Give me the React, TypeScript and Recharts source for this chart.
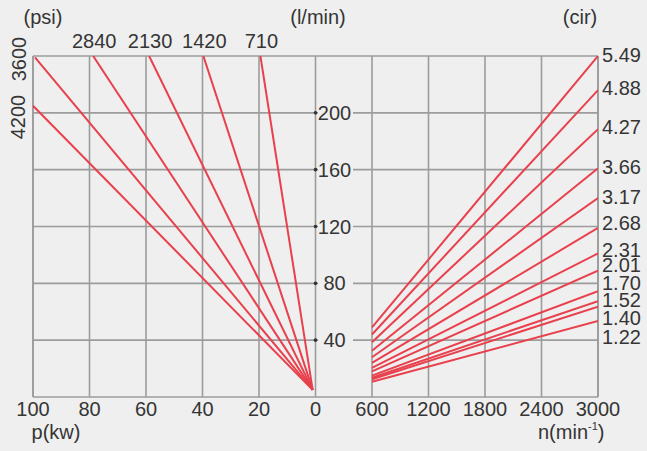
import React from 'react';
import { LineChart, Line, XAxis, YAxis, CartesianGrid, ReferenceDot } from 'recharts';

// ---- axis ticks ----
const kwTicks = [100, 80, 60, 40, 20, 0];
const rpmTicks = [600, 1200, 1800, 2400, 3000];
const flowGridTicks = [0, 40, 80, 120, 160, 200, 240];
const flowLabelTicks = [40, 80, 120, 160, 200];

// ---- left panel: pressure lines (psi), power (kW) vs flow (l/min) ----
const psiLabels = ['710', '1420', '2130', '2840', '3600', '4200'];
const psiTopKw = [19.5, 39.7, 58.9, 78.7, 99.3, 100];
const psiTopFlow = [240, 240, 240, 240, 239, 205];
const psiOriginKw = [1, 1, 1, 1, 1, 1];
const psiOriginFlow = [5, 5, 5, 5, 5, 5];

// ---- right panel: displacement lines (cir), speed (rpm) vs flow (l/min) ----
const cirLabels = ['5.49', '4.88', '4.27', '3.66', '3.17', '2.68', '2.31', '2.01', '1.70', '1.52', '1.40', '1.22'];
const flowAt600 = [49, 44, 38.5, 32.5, 28, 24, 20.5, 18, 15, 13.5, 12.5, 10.7];
const flowAt3000 = [240, 216, 188.5, 161, 140, 119, 101, 89, 74.5, 67.5, 63.5, 53.5];
const cirLabelFlow = [240.5, 217.5, 190, 162, 140.7, 122.4, 103.4, 92.9, 80.2, 68.3, 55.6, 42.2];

const FONT = '"Liberation Sans", Arial, sans-serif';
const TEXT = '#353535';
const GRID = '#9c9c9c';
const RED = '#e8404c';
const BG = '#efefef';

const psiSeries = psiLabels.map((name, i) => ({
  name,
  data: [
    { kw: psiTopKw[i], q: psiTopFlow[i] },
    { kw: psiOriginKw[i], q: psiOriginFlow[i] },
  ],
}));

const cirSeries = cirLabels.map((name, i) => ({
  name,
  data: [
    { rpm: 600, q: flowAt600[i] },
    { rpm: 3000, q: flowAt3000[i] },
  ],
}));

const centerOf = (vb: any) => ({
  cx: vb.x + (vb.width || 0) / 2,
  cy: vb.y + (vb.height || 0) / 2,
});

const flowLabel = (value: number) => (props: any) => {
  const { cx, cy } = centerOf(props.viewBox);
  return (
    <g>
      <rect x={cx + 2.5} y={cy - 9} width={35} height={18} fill={BG} />
      <text x={cx + 19} y={cy + 7} textAnchor="middle" fontFamily={FONT} fontSize={20} fill={TEXT}>
        {value}
      </text>
    </g>
  );
};

const topPsiLabel = (value: string) => (props: any) => {
  const { cx, cy } = centerOf(props.viewBox);
  return (
    <text x={cx + 1} y={cy - 8} textAnchor="middle" fontFamily={FONT} fontSize={20} fill={TEXT}>
      {value}
    </text>
  );
};

const cirLabel = (value: string) => (props: any) => {
  const { cx, cy } = centerOf(props.viewBox);
  return (
    <text x={cx + 4} y={cy + 7} textAnchor="start" fontFamily={FONT} fontSize={20} fill={TEXT}>
      {value}
    </text>
  );
};

const BottomTick = (props: any) => {
  const { x, y, payload } = props;
  return (
    <text x={x} y={y + 14} textAnchor="middle" fontFamily={FONT} fontSize={20} fill={TEXT}>
      {payload.value}
    </text>
  );
};

export default function App() {
  return (
    <div style={{ position: 'fixed', left: 0, top: 0, width: 647, height: 451, background: BG }}>
      <LineChart width={647} height={451} margin={{ top: 56, right: 49, bottom: 52, left: 33 }}>
        <XAxis
          xAxisId="kw"
          dataKey="kw"
          type="number"
          domain={[-100, 100]}
          reversed
          ticks={kwTicks}
          interval={0}
          height={1}
          axisLine={false}
          tickLine={false}
          tickSize={0}
          tickMargin={5}
          tick={<BottomTick />}
          allowDataOverflow
        />
        <XAxis
          xAxisId="rpm"
          dataKey="rpm"
          type="number"
          domain={[-3000, 3000]}
          ticks={rpmTicks}
          interval={0}
          height={1}
          axisLine={false}
          tickLine={false}
          tickSize={0}
          tickMargin={4}
          tick={<BottomTick />}
          allowDataOverflow
        />
        <YAxis yAxisId="q" dataKey="q" type="number" domain={[0, 240]} ticks={flowGridTicks} hide allowDataOverflow />
        <CartesianGrid xAxisId="kw" yAxisId="q" stroke={GRID} strokeWidth={1.6} horizontal vertical />
        <CartesianGrid xAxisId="rpm" yAxisId="q" stroke={GRID} strokeWidth={1.6} horizontal={false} vertical />

        {psiSeries.map((s) => (
          <Line
            key={'p' + s.name}
            xAxisId="kw"
            yAxisId="q"
            data={s.data}
            dataKey="q"
            stroke={RED}
            strokeWidth={2}
            dot={false}
            activeDot={false}
            isAnimationActive={false}
          />
        ))}
        {cirSeries.map((s) => (
          <Line
            key={'c' + s.name}
            xAxisId="rpm"
            yAxisId="q"
            data={s.data}
            dataKey="q"
            stroke={RED}
            strokeWidth={2}
            dot={false}
            activeDot={false}
            isAnimationActive={false}
          />
        ))}

        {flowLabelTicks.map((v) => (
          <ReferenceDot
            key={'f' + v}
            xAxisId="kw"
            yAxisId="q"
            x={0}
            y={v}
            r={1.8}
            fill={TEXT}
            stroke="none"
            ifOverflow="visible"
            label={flowLabel(v)}
          />
        ))}
        {psiLabels.slice(0, 4).map((name, i) => (
          <ReferenceDot
            key={'t' + name}
            xAxisId="kw"
            yAxisId="q"
            x={psiTopKw[i]}
            y={psiTopFlow[i]}
            r={0}
            fill="none"
            stroke="none"
            ifOverflow="visible"
            label={topPsiLabel(name)}
          />
        ))}
        {cirLabels.map((name, i) => (
          <ReferenceDot
            key={'r' + name}
            xAxisId="rpm"
            yAxisId="q"
            x={3000}
            y={cirLabelFlow[i]}
            r={0}
            fill="none"
            stroke="none"
            ifOverflow="visible"
            label={cirLabel(name)}
          />
        ))}
      </LineChart>
      <svg
        width={647}
        height={451}
        style={{ position: 'absolute', left: 0, top: 0, pointerEvents: 'none' }}
        fontFamily={FONT}
        fontSize={20}
        fill={TEXT}
      >
        <text x={43} y={24} textAnchor="middle">(psi)</text>
        <text x={318} y={24} textAnchor="middle">(l/min)</text>
        <text x={580} y={24} textAnchor="middle">(cir)</text>
        <text x={18.5} y={66} textAnchor="middle" transform="rotate(-90 18.5 59)">{psiLabels[4]}</text>
        <text x={18} y={124} textAnchor="middle" transform="rotate(-90 18 117)">{psiLabels[5]}</text>
        <text x={56} y={439} textAnchor="middle">p(kw)</text>
        <text x={538} y={439} textAnchor="start">
          n(min
          <tspan fontSize={11} dy={-9}>-1</tspan>
          <tspan dy={9}>)</tspan>
        </text>
      </svg>
    </div>
  );
}
